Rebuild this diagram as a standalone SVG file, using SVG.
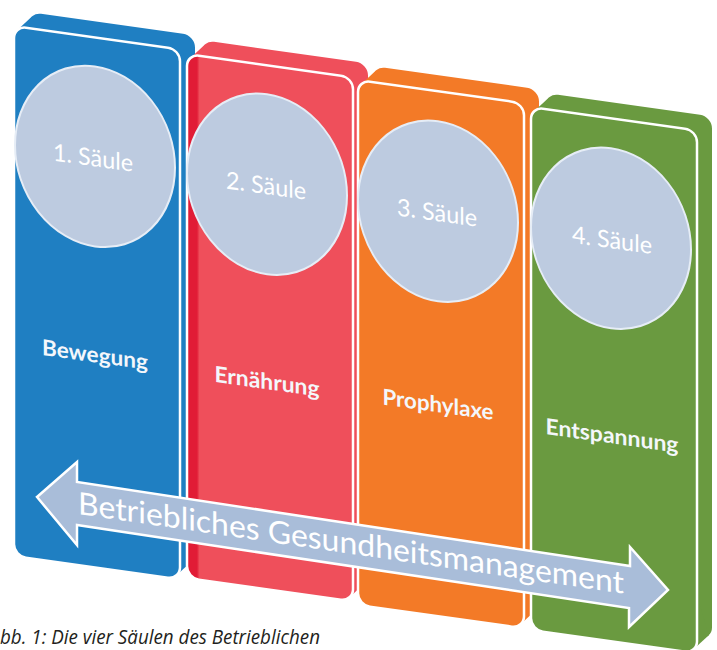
<svg xmlns="http://www.w3.org/2000/svg" width="717" height="650" viewBox="0 0 717 650">
  <style>
    .face { stroke: #ffffff; stroke-width: 2.5; }
    .disc { fill: #bdcbe0; stroke: #e6edf6; stroke-width: 2; }
    .num { font-family: Lato, "Open Sans", sans-serif; font-size: 24px; fill: #ffffff; text-anchor: middle; }
    .lbl { font-family: Lato, "Open Sans", sans-serif; font-size: 22px; font-weight: bold; fill: #f4f7fb; text-anchor: middle; }
    .band { fill: #a9bdd9; stroke: #ffffff; stroke-width: 2.5; stroke-linejoin: miter; }
    .band-text { font-family: Lato, "Open Sans", sans-serif; font-size: 31px; fill: #ffffff; }
    .caption { font-family: "Open Sans", "Liberation Sans", sans-serif; font-size: 20px; font-style: italic; fill: #231f20; }
  </style>
  <defs>
    <linearGradient id="redFront" x1="0" y1="0" x2="1" y2="0">
      <stop offset="0" stop-color="#e11c36"/>
      <stop offset="0.06" stop-color="#e11c36"/>
      <stop offset="0.075" stop-color="#ef4f5b"/>
      <stop offset="1" stop-color="#ef4f5b"/>
    </linearGradient>
  </defs>

  <rect width="717" height="650" fill="#ffffff"/>

  <!-- pillar 1: Bewegung -->
  <g id="pillar-1" transform="translate(14,26) skewY(8)" fill="#1f7fc2">
    <rect x="15" y="-16" width="166" height="530" rx="12"/>
    <polygon points="3.2,3.8 18.2,-12.2 177.8,510.2 162.8,526.2"/>
    <rect class="face" x="0" y="0" width="166" height="530" rx="12"/>
    <ellipse class="disc" cx="81" cy="119" rx="80" ry="90"/>
    <text class="num" x="79" y="129" textLength="80" lengthAdjust="spacingAndGlyphs">1. Säule</text>
    <text class="lbl" x="81" y="325" textLength="106" lengthAdjust="spacingAndGlyphs">Bewegung</text>
  </g>

  <!-- pillar 2: Ernährung -->
  <g id="pillar-2" transform="translate(187,54) skewY(8)" fill="#ef4f5b">
    <rect x="15" y="-16" width="166" height="524" rx="12"/>
    <polygon points="3.2,3.8 18.2,-12.2 177.8,504.2 162.8,520.2"/>
    <rect class="face" x="0" y="0" width="166" height="524" rx="12" fill="url(#redFront)"/>
    <ellipse class="disc" cx="80" cy="119" rx="80" ry="90"/>
    <text class="num" x="79" y="129" textLength="80" lengthAdjust="spacingAndGlyphs">2. Säule</text>
    <text class="lbl" x="80" y="324" textLength="105" lengthAdjust="spacingAndGlyphs">Ernährung</text>
  </g>

  <!-- pillar 3: Prophylaxe -->
  <g id="pillar-3" transform="translate(358,80) skewY(8)" fill="#f37a27">
    <rect x="15" y="-16" width="166" height="525" rx="12"/>
    <polygon points="3.2,3.8 18.2,-12.2 177.8,505.2 162.8,521.2"/>
    <rect class="face" x="0" y="0" width="166" height="525" rx="12"/>
    <ellipse class="disc" cx="80" cy="120" rx="80" ry="90"/>
    <text class="num" x="79" y="130" textLength="80" lengthAdjust="spacingAndGlyphs">3. Säule</text>
    <text class="lbl" x="80" y="321" textLength="111" lengthAdjust="spacingAndGlyphs">Prophylaxe</text>
  </g>

  <!-- pillar 4: Entspannung -->
  <g id="pillar-4" transform="translate(531,107) skewY(8)" fill="#6a9a40">
    <rect x="15" y="-16" width="166" height="523" rx="12"/>
    <polygon points="3.2,3.8 18.2,-12.2 177.8,503.2 162.8,519.2"/>
    <rect class="face" x="0" y="0" width="166" height="523" rx="12"/>
    <ellipse class="disc" cx="80" cy="120" rx="80" ry="90"/>
    <text class="num" x="81" y="130" textLength="80" lengthAdjust="spacingAndGlyphs">4. Säule</text>
    <text class="lbl" x="81" y="325" textLength="133" lengthAdjust="spacingAndGlyphs">Entspannung</text>
  </g>

  <!-- double-headed band across all pillars -->
  <g id="connectors">
    <polygon class="band" points="37,497 77,462 77,482 630,566 630,547 668,590 629,627 629,608 77,525 77,545"/>
    <g transform="translate(78,514) skewY(8.3)">
      <text class="band-text" x="0" y="0" textLength="546" lengthAdjust="spacingAndGlyphs">Betriebliches Gesundheitsmanagement</text>
    </g>
  </g>

  <text class="caption" x="0" y="644" textLength="320" lengthAdjust="spacingAndGlyphs">bb. 1: Die vier Säulen des Betrieblichen</text>
</svg>
